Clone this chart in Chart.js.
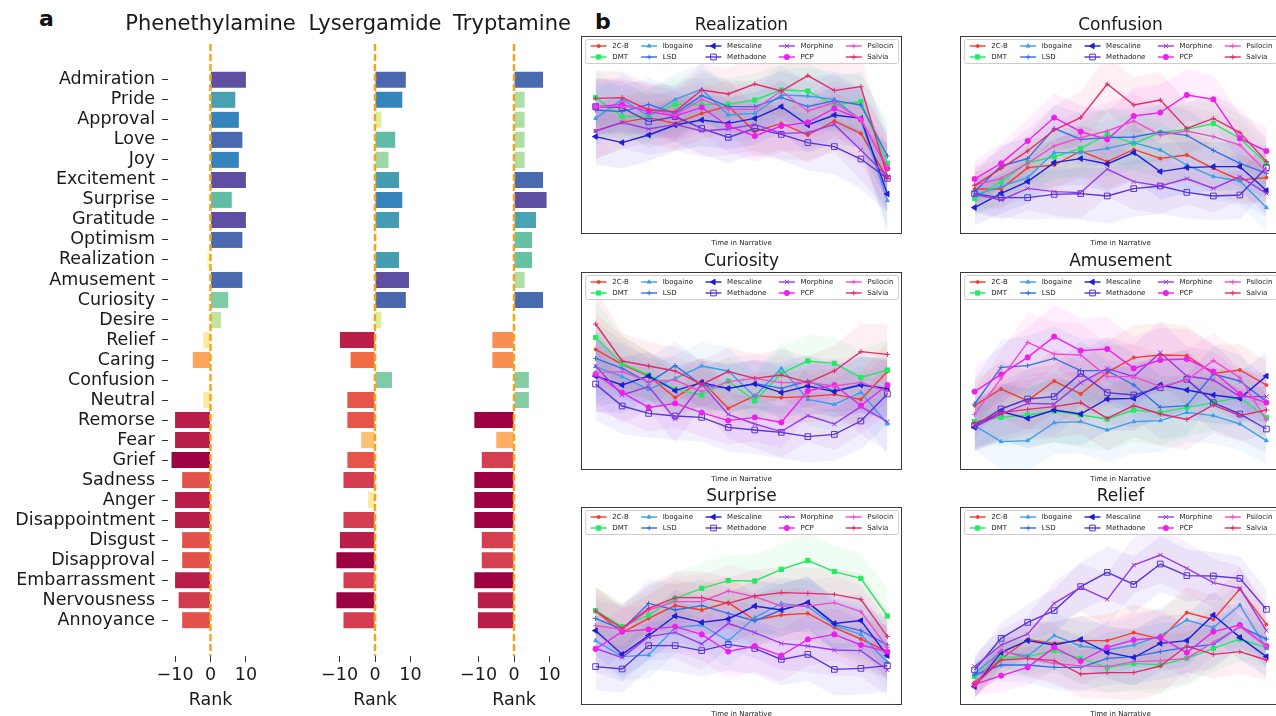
<!DOCTYPE html>
<html>
<head>
<meta charset="utf-8">
<title>Emotion ranks and narrative trajectories</title>
<script src="https://cdn.jsdelivr.net/npm/chart.js@4.4.1/dist/chart.umd.min.js"></script>
<style>
  html, body { margin: 0; padding: 0; background: #fff; }
  body { position: relative; width: 1276px; height: 716px; overflow: hidden; font-family: "DejaVu Sans", sans-serif; }
  canvas { position: absolute; }
  .panel-tag { position: absolute; font-size: 22px; font-weight: bold; line-height: 1; color: #111; }
</style>
</head>
<body>
<div class="panel-tag" style="left:39px;top:8px">a</div>
<div class="panel-tag" style="left:595px;top:11px">b</div>
<canvas id="rankPhenethylamine" width="421" height="716" style="left:0;top:0"></canvas>
<canvas id="rankLysergamide" width="150" height="716" style="left:300px;top:0"></canvas>
<canvas id="rankTryptamine" width="140" height="716" style="left:442px;top:0"></canvas>
<canvas id="lineRealization" width="331" height="234" style="left:576px;top:13px"></canvas>
<canvas id="lineConfusion" width="331" height="234" style="left:955px;top:13px"></canvas>
<canvas id="lineCuriosity" width="331" height="234" style="left:576px;top:249px"></canvas>
<canvas id="lineAmusement" width="331" height="234" style="left:955px;top:249px"></canvas>
<canvas id="lineSurprise" width="331" height="234" style="left:576px;top:484px"></canvas>
<canvas id="lineRelief" width="331" height="234" style="left:955px;top:484px"></canvas>
<script>
// ---- panel a: rank of each emotion per drug class ----
const emotions = ["Admiration", "Pride", "Approval", "Love", "Joy", "Excitement", "Surprise", "Gratitude",
  "Optimism", "Realization", "Amusement", "Curiosity", "Desire", "Relief", "Caring", "Confusion", "Neutral",
  "Remorse", "Fear", "Grief", "Sadness", "Anger", "Disappointment", "Disgust", "Disapproval",
  "Embarrassment", "Nervousness", "Annoyance"];
const rankTicks = [-10, 0, 10];

const rankPhenethylamine = [10, 7, 8, 9, 8, 10, 6, 10, 9, -1, 9, 5, 3, -2, -5, 0, -2,
  -10, -10, -11, -8, -10, -10, -8, -8, -10, -9, -8];
const rankLysergamide = [8.7, 7.7, 1.8, 5.7, 3.8, 6.8, 7.7, 6.8, 0.5, 6.8, 9.6, 8.7, 1.8, -9.9, -6.9, 4.8, -7.8,
  -7.8, -3.9, -7.8, -8.9, -2.0, -8.9, -9.9, -10.9, -8.9, -10.9, -8.9];
const rankTryptamine = [8.2, 3.0, 3.0, 3.0, 3.0, 8.2, 9.2, 6.2, 5.1, 5.1, 3.0, 8.2, -0.5, -6.1, -6.1, 4.2, 4.2,
  -11.2, -5.0, -9.1, -11.2, -11.2, -11.2, -9.1, -9.1, -11.2, -10.2, -10.2];

// ---- panel b: emotion score over narrative time, per drug ----
const drugs = ["2C-B", "DMT", "Ibogaine", "LSD", "Mescaline", "Methadone", "Morphine", "PCP", "Psilocin", "Salvia"];
const timeSteps = [0, 1, 2, 3, 4, 5, 6, 7, 8, 9, 10, 11];

const realizationMeans = [
  [51.5, 55.8, 58.2, 55.3, 60.3, 64.0, 51.2, 55.3, 49.5, 56.5, 50.3, 27.8],
  [68.2, 58.7, 59.0, 64.8, 64.8, 64.8, 67.0, 72.0, 71.5, 64.5, 66.2, 35.3],
  [57.8, 67.3, 59.0, 67.3, 72.3, 59.5, 60.3, 69.5, 69.0, 67.3, 57.0, 16.7],
  [62.0, 61.2, 64.8, 60.3, 69.2, 63.7, 63.7, 68.3, 63.7, 66.7, 64.5, 39.0],
  [48.7, 45.7, 49.5, 54.5, 57.0, 55.3, 57.8, 63.7, 54.5, 59.5, 57.8, 20.0],
  [63.7, 63.2, 56.2, 58.7, 52.8, 48.3, 52.8, 49.8, 45.7, 43.7, 37.5, 27.8],
  [51.5, 55.8, 52.5, 54.8, 51.5, 52.5, 54.8, 50.3, 50.7, 54.8, 42.0, 28.7],
  [63.7, 64.8, 61.2, 59.0, 63.3, 54.0, 49.0, 54.0, 55.8, 62.8, 57.3, 32.8],
  [63.7, 63.7, 62.8, 59.5, 67.3, 62.3, 62.3, 71.5, 61.5, 65.7, 57.3, 33.7],
  [67.8, 68.2, 62.0, 61.2, 72.0, 70.0, 75.0, 71.5, 79.2, 71.7, 73.7, 28.7]
];
const realizationSpread = [14, 13, 13, 13, 13, 13, 13, 13, 14, 14, 15, 17];

const confusionMeans = [
  [22.5, 22.5, 33.2, 34.5, 41.5, 36.2, 42.3, 37.8, 39.5, 32.8, 27.0, 28.2],
  [17.7, 26.2, 35.7, 38.5, 42.8, 49.8, 45.3, 50.7, 52.3, 55.2, 47.8, 35.3],
  [19.5, 23.7, 28.2, 40.7, 40.7, 42.8, 45.7, 42.0, 34.5, 28.7, 26.5, 13.2],
  [21.2, 34.0, 37.7, 52.8, 47.3, 48.2, 48.5, 51.0, 49.3, 41.8, 35.3, 30.3],
  [13.2, 20.3, 26.2, 35.7, 37.7, 35.0, 40.7, 31.2, 33.2, 33.7, 33.7, 21.7],
  [20.2, 18.2, 18.2, 19.8, 20.2, 19.0, 22.7, 24.0, 20.8, 19.0, 19.5, 33.2],
  [19.8, 17.0, 22.8, 21.2, 20.7, 32.5, 26.2, 24.0, 27.7, 22.8, 28.7, 20.3],
  [27.5, 35.3, 46.5, 58.2, 51.2, 47.3, 59.0, 60.7, 69.5, 67.3, 47.8, 41.5],
  [24.5, 27.8, 35.3, 44.0, 48.2, 51.5, 56.5, 49.5, 51.5, 48.7, 44.5, 31.2],
  [24.2, 32.8, 41.5, 52.0, 58.2, 75.0, 64.5, 67.0, 52.8, 57.8, 50.7, 36.2]
];
const confusionSpread = [9, 10, 11, 12, 13, 14, 14, 14, 13, 12, 12, 12];

const curiosityMeans = [
  [60.3, 52.8, 47.0, 36.2, 44.5, 30.8, 37.2, 36.2, 36.7, 37.8, 35.3, 49.2],
  [66.2, 53.3, 47.5, 40.3, 37.5, 44.5, 34.5, 48.3, 54.5, 53.3, 46.3, 50.0],
  [51.7, 46.7, 40.3, 45.8, 52.0, 49.5, 36.7, 50.8, 35.3, 32.8, 38.8, 23.0],
  [55.8, 50.8, 43.7, 52.2, 42.5, 40.8, 43.3, 40.8, 44.5, 39.5, 42.8, 40.0],
  [47.0, 42.5, 47.0, 39.7, 43.7, 40.8, 43.0, 38.7, 42.0, 39.2, 42.5, 40.8],
  [43.0, 32.0, 28.3, 27.0, 26.3, 21.3, 20.0, 18.8, 16.7, 17.8, 24.5, 38.0],
  [52.0, 37.5, 41.7, 25.5, 43.0, 27.8, 23.0, 19.2, 27.2, 23.0, 31.7, 24.2],
  [48.0, 38.7, 31.3, 33.3, 28.7, 24.7, 26.3, 23.8, 39.5, 42.5, 32.2, 42.5],
  [48.7, 49.2, 44.2, 45.0, 39.2, 44.2, 45.8, 43.7, 43.8, 42.0, 43.8, 39.2],
  [73.0, 54.5, 52.0, 49.5, 42.8, 49.2, 45.8, 47.5, 43.7, 49.5, 59.2, 57.8]
];
const curiositySpread = [18, 14, 12, 12, 12, 12, 12, 13, 13, 13, 14, 15];

const amusementMeans = [
  [32.2, 40.5, 34.7, 44.5, 38.0, 48.8, 56.2, 57.5, 57.2, 48.3, 50.0, 42.5],
  [24.2, 26.3, 27.5, 29.5, 27.5, 25.5, 30.0, 28.7, 31.3, 33.7, 36.3, 26.3],
  [22.2, 14.2, 14.7, 23.7, 24.2, 20.0, 24.2, 24.7, 28.8, 27.2, 23.0, 14.7],
  [33.0, 51.3, 52.2, 55.8, 49.7, 49.7, 42.5, 31.3, 32.2, 48.0, 44.5, 34.2],
  [21.3, 29.2, 25.8, 30.0, 28.0, 35.5, 35.8, 42.5, 40.0, 37.5, 35.8, 47.0],
  [22.2, 30.5, 35.5, 36.7, 48.3, 38.7, 37.5, 41.2, 45.3, 33.7, 28.0, 20.5],
  [21.7, 28.0, 33.3, 33.0, 43.7, 50.8, 46.7, 58.7, 47.0, 45.0, 36.7, 36.7],
  [39.2, 47.8, 56.3, 66.7, 59.7, 60.5, 50.8, 55.0, 55.5, 49.2, 38.0, 33.7],
  [27.8, 45.8, 63.8, 58.0, 57.5, 46.7, 46.7, 41.7, 45.0, 54.7, 46.2, 25.0],
  [23.3, 28.7, 30.3, 31.7, 33.7, 25.8, 32.2, 28.0, 25.3, 32.5, 27.2, 30.0]
];
const amusementSpread = [12, 14, 15, 16, 16, 16, 16, 16, 15, 14, 13, 12];

const surpriseMeans = [
  [47.0, 36.2, 43.3, 49.7, 47.5, 51.2, 42.5, 45.0, 45.8, 38.7, 33.0, 26.7],
  [47.2, 39.2, 45.0, 53.3, 58.3, 62.2, 62.0, 67.8, 72.2, 66.7, 63.3, 44.5],
  [32.2, 24.2, 25.0, 38.7, 40.0, 32.0, 43.7, 50.8, 49.2, 39.7, 35.3, 21.3],
  [43.3, 37.8, 50.8, 47.5, 49.7, 45.8, 42.0, 47.5, 51.3, 40.3, 37.2, 30.0],
  [37.2, 25.3, 34.7, 44.5, 41.3, 43.0, 49.5, 47.5, 51.2, 40.8, 42.2, 24.7],
  [19.2, 18.0, 29.7, 29.7, 27.2, 30.3, 28.3, 22.8, 25.3, 17.8, 18.3, 19.7],
  [28.3, 23.7, 34.2, 36.3, 30.5, 40.8, 36.2, 30.8, 29.5, 27.5, 27.2, 17.5],
  [28.0, 36.7, 37.8, 39.2, 35.3, 26.7, 29.5, 24.7, 32.8, 35.3, 30.0, 26.7],
  [39.7, 37.8, 47.5, 51.7, 51.7, 57.0, 54.2, 49.5, 49.5, 51.2, 46.7, 28.8],
  [47.0, 38.3, 48.3, 53.7, 53.7, 50.8, 54.5, 56.2, 55.8, 55.3, 52.8, 34.2]
];
const surpriseSpread = [12, 12, 12, 13, 13, 13, 13, 13, 13, 13, 13, 13];

const reliefMeans = [
  [11.3, 23.0, 32.8, 30.8, 32.2, 32.2, 36.2, 33.0, 46.2, 42.8, 58.0, 40.3],
  [14.2, 23.8, 24.2, 27.2, 23.3, 18.7, 20.8, 20.0, 23.3, 28.3, 33.0, 28.7],
  [15.8, 26.7, 24.5, 34.7, 29.5, 27.5, 30.0, 34.7, 42.5, 38.7, 50.0, 28.3],
  [15.0, 20.0, 20.0, 18.8, 18.8, 23.3, 24.2, 26.7, 28.8, 30.3, 39.2, 33.0],
  [9.2, 26.3, 32.2, 30.0, 32.8, 26.3, 23.7, 30.8, 32.2, 45.0, 33.8, 24.2],
  [17.5, 33.3, 41.3, 47.2, 59.2, 66.3, 60.3, 70.5, 64.7, 64.5, 63.3, 47.8],
  [19.2, 30.0, 35.5, 50.8, 58.8, 52.8, 70.0, 75.0, 68.3, 61.2, 58.3, 37.2],
  [10.3, 14.7, 18.8, 28.8, 22.0, 28.8, 32.5, 33.7, 26.2, 36.7, 40.0, 29.5],
  [10.0, 27.5, 23.3, 20.8, 19.5, 19.2, 21.7, 22.2, 23.3, 31.3, 39.2, 29.2],
  [10.0, 22.5, 23.3, 22.2, 15.5, 16.2, 16.2, 19.5, 29.5, 25.3, 26.7, 22.5]
];
const reliefSpread = [6, 8, 9, 11, 12, 13, 14, 14, 13, 12, 11, 10];

// ---- styling ----
const FONT = '"DejaVu Sans", sans-serif';
const INK = "#1a1a1a";
Chart.defaults.font.family = FONT;
Chart.defaults.color = INK;

const drugColors = ["#f53b2a", "#22ea62", "#3c9eea", "#2e70e8", "#1c1ed8",
  "#5533d6", "#9a38e8", "#ee1fee", "#f04ccf", "#e32a6c"];
const drugMarkers = [
  { style: "circle", radius: 1.5 },
  { style: "rect", radius: 3 },
  { style: "triangle", radius: 2.2 },
  { style: "cross", radius: 2.5 },
  { style: "triangle", radius: 3.2, rotation: -90 },
  { style: "rect", radius: 4, hollow: true },
  { style: "crossRot", radius: 3 },
  { style: "circle", radius: 2.6 },
  { style: "cross", radius: 2.5 },
  { style: "cross", radius: 2.5 }
];

const spectralStops = ["#9e0142", "#d53e4f", "#f46d43", "#fdae61", "#fee08b", "#ffffbf",
  "#e6f598", "#abdda4", "#66c2a5", "#3288bd", "#5e4fa2"];

function hexToRgb(hex) {
  const n = parseInt(hex.slice(1), 16);
  return [(n >> 16) & 255, (n >> 8) & 255, n & 255];
}

function withAlpha(hex, a) {
  const [r, g, b] = hexToRgb(hex);
  return `rgba(${r},${g},${b},${a})`;
}

function spectral(t) {
  t = Math.min(1, Math.max(0, t));
  const p = t * 10;
  const i = Math.min(9, Math.floor(p));
  const f = p - i;
  const a = hexToRgb(spectralStops[i]);
  const b = hexToRgb(spectralStops[i + 1]);
  const c = a.map((v, k) => Math.round(v + (b[k] - v) * f));
  return `rgb(${c[0]},${c[1]},${c[2]})`;
}

function minusSign(v) {
  return v < 0 ? "\u2212" + Math.abs(v) : String(v);
}

const zeroLine = {
  id: "zeroLine",
  afterDatasetsDraw(chart) {
    const { ctx, chartArea, scales } = chart;
    const x = scales.x.getPixelForValue(0);
    ctx.save();
    ctx.strokeStyle = "#f7a21b";
    ctx.lineWidth = 2.5;
    ctx.setLineDash([7, 3]);
    ctx.beginPath();
    ctx.moveTo(x, chartArea.top);
    ctx.lineTo(x, chartArea.bottom);
    ctx.stroke();
    ctx.restore();
  }
};

// sideLeft / sideRight: room kept on each side of the plot so the title can centre over it
function rankChart(id, title, values, showLabels, sideLeft, sideRight) {
  const lo = Math.min(...values);
  const hi = Math.max(...values);
  const labelFont = { family: FONT, size: 17.5 };

  return new Chart(document.getElementById(id), {
    type: "bar",
    data: {
      datasets: [{
        data: values.map((v, i) => ({ x: v, y: i })),
        backgroundColor: values.map((v) => spectral((v - lo) / (hi - lo))),
        borderWidth: 0,
        barPercentage: 1,
        categoryPercentage: 0.8,
      }],
    },
    options: {
      indexAxis: "y",
      responsive: false,
      animation: false,
      events: [],
      layout: { padding: 0 },
      scales: {
        x: {
          type: "linear",
          min: -12,
          max: 12,
          afterBuildTicks: (axis) => { axis.ticks = rankTicks.map((v) => ({ value: v })); },
          afterFit: (scale) => { scale.height = 60; },
          ticks: { callback: (v) => minusSign(v), font: labelFont, color: INK, padding: 3, maxRotation: 0, minRotation: 0, autoSkip: false },
          grid: { display: true, drawOnChartArea: false, drawTicks: true, tickLength: 6, tickColor: "#333" },
          border: { display: false },
          title: { display: true, text: "Rank", font: labelFont, color: INK, padding: { top: 2, bottom: 5.5 } },
        },
        y: {
          type: "linear",
          position: "left",
          reverse: true,
          min: -1.79,
          max: 28.79,
          offset: false,
          afterBuildTicks: (axis) => { axis.ticks = emotions.map((e, i) => ({ value: i })); },
          afterFit: (scale) => { scale.width = sideLeft; },
          ticks: { display: showLabels, callback: (v) => emotions[v] || "", font: labelFont, color: INK, padding: 7, autoSkip: false },
          grid: { display: showLabels, offset: false, drawOnChartArea: false, drawTicks: true, tickLength: 6, tickColor: "#333" },
          border: { display: false },
        },
        ySpacer: {
          type: "linear",
          position: "right",
          afterFit: (scale) => { scale.width = sideRight; },
          ticks: { display: false },
          grid: { display: false },
          border: { display: false },
        },
      },
      plugins: {
        legend: { display: false },
        tooltip: { enabled: false },
        title: {
          display: true,
          text: title,
          color: INK,
          font: { family: FONT, size: 21, weight: "normal" },
          padding: { top: 12.4, bottom: 6.4 },
        },
      },
    },
    plugins: [zeroLine],
  });
}

const frameAndLegend = {
  id: "frameAndLegend",
  afterDatasetsDraw(chart) {
    const { ctx, chartArea: a } = chart;
    ctx.save();
    ctx.strokeStyle = "#3a3a3a";
    ctx.lineWidth = 1;
    ctx.setLineDash([]);
    ctx.strokeRect(a.left + 0.5, a.top + 0.5, a.width - 1, a.height - 1);

    // matplotlib-like legend: upper right, 5 columns filled column by column
    const series = chart.data.datasets.filter((d) => d.isSeries);
    ctx.font = `7px ${FONT}`;
    const cols = [];
    for (let c = 0; c < 5; c++) {
      const items = [series[2 * c], series[2 * c + 1]];
      cols.push({ items, w: Math.max(...items.map((d) => ctx.measureText(d.label).width)) });
    }
    const handle = 16, gap = 5.6, colSpace = 12.5, pad = 5;
    const total = pad * 2 + cols.reduce((s, c) => s + handle + gap + c.w, 0) + colSpace * 4;
    const right = a.right - 3.5, top = a.top + 3.5, boxH = 24;
    const left = right - total;

    ctx.fillStyle = "rgba(255,255,255,0.8)";
    ctx.strokeStyle = "#cccccc";
    ctx.beginPath();
    if (ctx.roundRect) ctx.roundRect(left, top, total, boxH, 2);
    else ctx.rect(left, top, total, boxH);
    ctx.fill();
    ctx.stroke();

    let x = left + pad;
    cols.forEach((col) => {
      col.items.forEach((d, r) => {
        const y = top + 6.5 + r * 11;
        ctx.strokeStyle = d.borderColor;
        ctx.lineWidth = 1.4;
        ctx.beginPath();
        ctx.moveTo(x, y);
        ctx.lineTo(x + handle, y);
        ctx.stroke();
        ctx.fillStyle = d.pointBackgroundColor;
        ctx.strokeStyle = d.pointBorderColor;
        ctx.lineWidth = 1;
        if (Chart.helpers && Chart.helpers.drawPoint) {
          Chart.helpers.drawPoint(ctx, { pointStyle: d.pointStyle, rotation: d.pointRotation, radius: d.pointRadius, borderWidth: 1 }, x + handle / 2, y);
        }
        ctx.fillStyle = INK;
        ctx.textBaseline = "middle";
        ctx.textAlign = "left";
        ctx.fillText(d.label, x + handle + gap, y);
      });
      x += handle + gap + col.w + colSpace;
    });
    ctx.restore();
  }
};

function trajectoryChart(id, title, means, spread) {
  const datasets = [];
  drugs.forEach((drug, k) => {
    datasets.push({
      data: means[k].map((v, i) => v + spread[i]),
      fill: "+1",
      backgroundColor: withAlpha(drugColors[k], 0.075),
      borderColor: "rgba(0,0,0,0)",
      borderWidth: 0,
      pointRadius: 0,
      order: 40,
    });
    datasets.push({
      data: means[k].map((v, i) => v - spread[i]),
      fill: false,
      borderColor: "rgba(0,0,0,0)",
      borderWidth: 0,
      pointRadius: 0,
      order: 40,
    });
  });
  drugs.forEach((drug, k) => {
    const m = drugMarkers[k];
    datasets.push({
      label: drug,
      isSeries: true,
      data: means[k],
      borderColor: drugColors[k],
      backgroundColor: drugColors[k],
      borderWidth: 1.4,
      tension: 0,
      fill: false,
      pointStyle: m.style,
      pointRadius: m.radius,
      pointRotation: m.rotation || 0,
      pointBackgroundColor: m.hollow ? "rgba(0,0,0,0)" : drugColors[k],
      pointBorderColor: drugColors[k],
      pointBorderWidth: 1,
      order: 20 - k,
    });
  });

  return new Chart(document.getElementById(id), {
    type: "line",
    data: { labels: timeSteps, datasets },
    options: {
      responsive: false,
      animation: false,
      events: [],
      layout: { padding: 0 },
      scales: {
        x: { type: "linear", min: -0.55, max: 11.55, display: false },
        y: { min: 0, max: 99, display: false },
      },
      plugins: {
        legend: { display: false },
        tooltip: { enabled: false },
        filler: { drawTime: "beforeDatasetsDraw" },
        title: {
          display: true,
          text: title,
          color: INK,
          font: { family: FONT, size: 17, weight: "normal" },
          padding: { top: 2.6, bottom: 0 },
        },
        subtitle: {
          display: true,
          position: "bottom",
          text: "Time in Narrative",
          color: INK,
          font: { family: FONT, size: 7, weight: "normal" },
          padding: { top: 4.6, bottom: 0 },
        },
      },
    },
    plugins: [frameAndLegend],
  });
}

rankChart("rankPhenethylamine", "Phenethylamine", rankPhenethylamine, true, 168, 168);
rankChart("rankLysergamide", "Lysergamide", rankLysergamide, false, 32.5, 32.5);
rankChart("rankTryptamine", "Tryptamine", rankTryptamine, false, 29.5, 25.5);

trajectoryChart("lineRealization", "Realization", realizationMeans, realizationSpread);
trajectoryChart("lineConfusion", "Confusion", confusionMeans, confusionSpread);
trajectoryChart("lineCuriosity", "Curiosity", curiosityMeans, curiositySpread);
trajectoryChart("lineAmusement", "Amusement", amusementMeans, amusementSpread);
trajectoryChart("lineSurprise", "Surprise", surpriseMeans, surpriseSpread);
trajectoryChart("lineRelief", "Relief", reliefMeans, reliefSpread);
</script>
</body>
</html>
